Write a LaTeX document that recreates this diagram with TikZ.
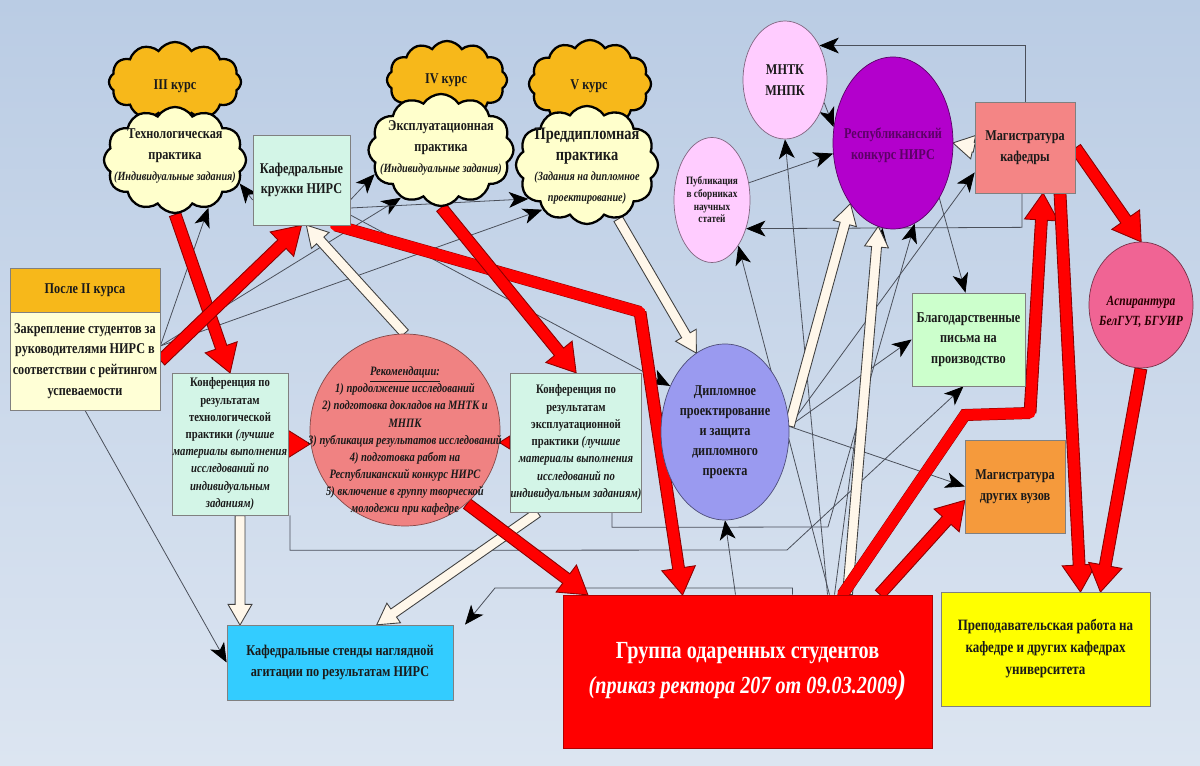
\documentclass[tikz,border=0pt]{standalone}
\usepackage{fontspec}
\setmainfont{Liberation Serif}[FakeStretch=0.82]
\usetikzlibrary{shapes.geometric,shapes.symbols,shapes.arrows,arrows.meta,calc}
\newlength\pxl
\setlength\pxl{0.02cm}
\definecolor{bgtop}{HTML}{BACCE4}
\definecolor{bgbot}{HTML}{DCE5F1}
\definecolor{orC}{HTML}{F7B81A}
\definecolor{ylC}{HTML}{FFFFCC}
\definecolor{mintC}{HTML}{D3F5E7}
\definecolor{pyC}{HTML}{FFFFD6}
\definecolor{coralC}{HTML}{F08282}
\definecolor{dipC}{HTML}{9A9AF0}
\definecolor{pinkC}{HTML}{FFCCFF}
\definecolor{repC}{HTML}{B300CC}
\definecolor{repT}{HTML}{5C0066}
\definecolor{mkC}{HTML}{F48585}
\definecolor{blC}{HTML}{CCFFCC}
\definecolor{aspC}{HTML}{F06494}
\definecolor{mdvC}{HTML}{F59A3C}
\definecolor{prepC}{HTML}{FFFF00}
\definecolor{stC}{HTML}{33CCFF}
\definecolor{grC}{HTML}{FF0000}
\definecolor{lineC}{HTML}{4A4F5A}
\definecolor{cream}{HTML}{FFF7EA}
\definecolor{txtC}{HTML}{1A1A1A}
\pgfdeclarelayer{bg}
\pgfdeclarelayer{arr}
\pgfsetlayers{bg,arr,main}
\newcommand\fatarrow[3]{%
  \path let \p1=($(#3)-(#2)$), \n1={veclen(\x1,\y1)}, \n2={atan2(\y1,\x1)} in
    node[#1, minimum height=\n1, rotate=\n2, anchor=tail] at (#2) {};}
\begin{document}
\begin{tikzpicture}[x=0.02cm,y=-0.02cm,
  every node/.style={text=txtC},
  lab/.style={font=\fontsize{8.5}{11.8}\selectfont\bfseries, align=center, inner sep=0pt},
  sml/.style={font=\fontsize{7.4}{9.8}\selectfont\bfseries, align=center, inner sep=0pt},
  boxst/.style={draw=black!50, line width=0.4pt},
  ell/.style={ellipse, draw=black!50, line width=0.4pt, inner sep=0pt},
  cloudst/.style={cloud, cloud puffs=12, cloud puff arc=115, cloud ignores aspect, draw=black, line width=1.3pt, inner sep=0pt},
  conn/.style={draw=lineC, line width=0.45pt, -{Stealth[length=11pt,width=9pt,inset=3pt,color=black]}},
  redfat/.style={shape=single arrow, fill=grC, draw=red!55!black, line width=0.5pt, inner xsep=0pt, inner ysep=5.5\pxl, single arrow head extend=11\pxl, single arrow tip angle=64, minimum width=0pt},
  whitefat/.style={shape=single arrow, fill=cream, draw=black!75, line width=0.5pt, inner xsep=0pt, inner ysep=4.5\pxl, single arrow head extend=7\pxl, single arrow tip angle=60, minimum width=0pt}
]
\begin{pgfonlayer}{bg}
\shade[top color=bgtop, bottom color=bgbot] (0,0) rectangle (1200,766);
\end{pgfonlayer}
\useasboundingbox (0,0) rectangle (1200,766);

% clouds
\node[cloudst, fill=orC, minimum width=132\pxl, minimum height=80\pxl] (c3o) at (175,82) {};
\node[cloudst, fill=orC, minimum width=120\pxl, minimum height=78\pxl] (c4o) at (447,80) {};
\node[cloudst, fill=orC, minimum width=122\pxl, minimum height=88\pxl] (c5o) at (590,84) {};
\node[lab] (t3o) at (175,86) {III курс};
\node[lab] (t4o) at (446,80) {IV курс};
\node[lab] (t5o) at (589,86) {V курс};
\node[cloudst, fill=ylC, minimum width=142\pxl, minimum height=106\pxl] (c3) at (175,160) {};
\node[cloudst, fill=ylC, minimum width=145\pxl, minimum height=112\pxl] (c4) at (441,150) {};
\node[cloudst, fill=ylC, minimum width=142\pxl, minimum height=118\pxl] (c5) at (587,165) {};
\node[lab] (t3) at (175,156) {Технологическая\\практика\\{\itshape\fontsize{7.1}{9}\selectfont(Индивидуальные задания)}};
\node[lab] (t4) at (441,148) {Эксплуатационная\\практика\\{\itshape\fontsize{7.1}{9}\selectfont(Индивидуальные задания)}};
\node[lab] (t5) at (587,166) {{\fontsize{10}{12}\selectfont Преддипломная}\\{\fontsize{10}{12}\selectfont практика}\\{\itshape\fontsize{7.1}{9}\selectfont(Задания на дипломное}\\{\itshape\fontsize{7.1}{9}\selectfont проектирование)}};

% boxes
\node[boxst, fill=mintC, minimum width=97\pxl, minimum height=90\pxl, lab] (kr) at (301.5,180) {Кафедральные\\кружки НИРС};
\node[boxst, fill=orC, minimum width=150\pxl, minimum height=44\pxl, lab] (p2) at (85,290) {После II курса};
\node[boxst, fill=pyC, minimum width=150\pxl, minimum height=98\pxl, lab] (zs) at (85,361) {Закрепление студентов за\\руководителями НИРС в\\соответствии с рейтингом\\успеваемости};
\node[boxst, fill=mintC, minimum width=116\pxl, minimum height=142\pxl, sml] (kt) at (230,444) {Конференция по\\результатам\\технологической\\практики {\itshape (лучшие}\\{\itshape материалы выполнения}\\{\itshape исследований по}\\{\itshape индивидуальным}\\{\itshape заданиям)}};
\node[boxst, fill=mintC, minimum width=128\pxl, minimum height=139\pxl, sml] (ke) at (576,442.5) {Конференция по\\результатам\\эксплуатационной\\практики {\itshape (лучшие}\\{\itshape материалы выполнения}\\{\itshape исследований по}\\{\itshape индивидуальным заданиям)}};
\node[boxst, fill=mkC, minimum width=100\pxl, minimum height=91\pxl, lab] (mk) at (1025,147.5) {Магистратура\\кафедры};
\node[boxst, fill=blC, minimum width=113\pxl, minimum height=93\pxl, lab] (bl) at (968.5,339.5) {Благодарственные\\письма на\\производство};
\node[boxst, fill=mdvC, minimum width=100\pxl, minimum height=93\pxl, lab] (mdv) at (1015,486.5) {Магистратура\\других вузов};
\node[boxst, fill=prepC, minimum width=209\pxl, minimum height=114\pxl, lab, font=\fontsize{9}{12.5}\selectfont\bfseries] (prep) at (1045.5,649) {Преподавательская работа на\\кафедре и других кафедрах\\университета};
\node[boxst, fill=stC, minimum width=226\pxl, minimum height=75\pxl, lab] (st) at (340,662.5) {Кафедральные стенды наглядной\\агитации по результатам НИРС};
\node[boxst, fill=grC, draw=red!70!black, minimum width=369\pxl, minimum height=153\pxl, align=center, inner sep=0pt, text=white, font=\fontsize{14}{20}\selectfont\bfseries] (gr) at (747.5,671.5) {Группа одаренных студентов\\{\itshape (приказ ректора 207 от 09.03.2009}{\fontsize{19}{20}\selectfont\itshape )}};

% ellipses
\node[ell, fill=coralC, draw=coralC!55!black, minimum width=190\pxl, minimum height=192\pxl] (rec) at (405,430) {};
\node[font=\fontsize{7.3}{9.7}\selectfont\bfseries\itshape, align=center, inner sep=0pt] (trec) at (405,441) {\underline{Рекомендации:}\\1) продолжение исследований\\2) подготовка докладов на МНТК и\\МНПК\\3) публикация результатов исследований\\4) подготовка работ на\\Республиканский конкурс НИРС\\5) включение в группу творческой\\молодежи при кафедре};
\node[ell, fill=dipC, draw=dipC!50!black, minimum width=128\pxl, minimum height=176\pxl, lab, font=\fontsize{8.5}{11.3}\selectfont\bfseries] (dip) at (725,432) {Дипломное\\проектирование\\и защита\\дипломного\\проекта};
\node[ell, fill=pinkC, draw=pinkC!50!black, minimum width=84\pxl, minimum height=118\pxl, lab] (mntk) at (785,80) {МНТК\\МНПК};
\node[ell, fill=pinkC, draw=pinkC!50!black, minimum width=76\pxl, minimum height=125\pxl, lab, font=\fontsize{6.4}{7.2}\selectfont\bfseries] (pub) at (712,200) {Публикация\\в сборниках\\научных\\статей};
\node[ell, fill=repC, draw=repC!50!black, minimum width=120\pxl, minimum height=172\pxl] (rep) at (893,143) {};
\node[lab, text=repT] (trep) at (893,145) {Республиканский\\конкурс НИРС};
\node[ell, fill=aspC, draw=aspC!50!black, minimum width=104\pxl, minimum height=126\pxl] (asp) at (1141,305) {};
\node[lab, font=\fontsize{8}{11}\selectfont\bfseries\itshape, text=black!85!red] (tasp) at (1141,312) {Аспирантура\\БелГУТ, БГУИР};

\begin{pgfonlayer}{arr}
% thin connectors
\coordinate (b527) at (828,527);
\coordinate (b550) at (787,550);
\coordinate (b588) at (495,588);
\draw[conn] ([yshift=-20\pxl]kr.west) -- (c3.-20);
\draw[conn] ([yshift=15\pxl]zs.east) -- (c3.-55);
\draw[conn] ([yshift=15\pxl]zs.east) -- (c4.-130);
\draw[conn] ([yshift=15\pxl]zs.east) -- (c5.-135);
\draw[conn] ([yshift=-20\pxl]kr.east) -- (c4.200);
\draw[conn] ([yshift=-28\pxl]kr.east) -- (c5.-150);
\draw[conn] ([yshift=-35\pxl]kr.east) -- (dip.140);
\draw[conn] (zs.south) -- (st.west);
\draw[conn] (mk.north) |- (mntk.45);
\draw[conn] ([xshift=-3\pxl]mk.south) -- ++(0,34) -- (pub.-40);
\draw[conn] (rep.-50) -- ([xshift=-3\pxl]bl.north);
\draw[conn] (mntk.-30) -- (rep.165);
\draw[conn] (pub.25) -- (rep.190);
\draw[conn] (dip.5) -- (bl.west);
\draw[conn] (dip.5) -- (mdv.west);
\draw[conn] (dip.5) -- ([yshift=-25\pxl]mk.west);
\draw[conn] ([xshift=80\pxl]gr.north) -- (mntk.south);
\draw[conn] ([xshift=82\pxl]gr.north) -- (pub.-60);
\draw[conn] ([xshift=87\pxl]gr.north) -- (rep.-97);
\draw[conn] ([xshift=36\pxl]ke.south) -- ++(0,15) -- (b527) -- (rep.-75);
\draw[conn] ([xshift=-12\pxl]gr.north) -- (dip.south);
\draw[conn] ([xshift=60\pxl]kt.south) -- ++(0,35) -- (b550) -- ([xshift=-5\pxl]bl.south);
\draw[conn] ([xshift=45\pxl]gr.north) |- (b588) -- ([xshift=125\pxl]st.north);

% coordinates for fat arrows
\coordinate (w1b) at ([xshift=5\pxl]kr.south);
\coordinate (w3a) at ([xshift=10\pxl]kt.south);
\coordinate (w3b) at ([xshift=-100\pxl]st.north);
\coordinate (w4a) at ([xshift=-38\pxl]ke.south);
\coordinate (w4b) at ([xshift=37\pxl]st.north);
\coordinate (w6a) at ([xshift=100\pxl]gr.north);
\coordinate (r3a) at ([xshift=-15\pxl]kr.south east);
\coordinate (bend1) at (640,312);
\coordinate (r3b) at ([xshift=-65\pxl]gr.north);
\coordinate (r5b) at (kt.east -| rec.west);
\coordinate (r6b) at (ke.west -| rec.east);
\coordinate (r7b) at ([xshift=25\pxl]gr.north west);
\coordinate (r8a) at ([xshift=95\pxl]gr.north);
\coordinate (bend2) at (965,415);
\coordinate (bend3) at (1030,413);
\coordinate (r8b) at ([xshift=18\pxl]mk.south);
\coordinate (r9a) at ([xshift=132\pxl]gr.north);
\coordinate (r9b) at ([yshift=-14\pxl]mdv.west);
\coordinate (r10a) at ([xshift=35\pxl]mk.south);
\coordinate (r10b) at ([xshift=35\pxl]prep.north);
\coordinate (r12b) at ([xshift=55\pxl]prep.north);

% white arrows
\fatarrow{whitefat}{rec.north}{w1b}
\fatarrow{whitefat}{c5.-60}{dip.110}
\fatarrow{whitefat}{w3a}{w3b}
\fatarrow{whitefat}{w4a}{w4b}
\fatarrow{whitefat}{dip.5}{rep.235}
\fatarrow{whitefat}{w6a}{rep.260}
\fatarrow{whitefat}{mk.west}{rep.east}

% red arrows
\fatarrow{redfat}{c3.south}{kt.north}
\fatarrow{redfat}{zs.east}{kr.south}
\draw[red!55!black, line width=12\pxl] (r3a) -- (bend1);
\fatarrow{redfat}{bend1}{r3b}
\draw[grC, line width=11\pxl, line cap=round] (r3a) -- (bend1);
\fatarrow{redfat}{c4.south}{ke.north}
\fatarrow{redfat}{kt.east}{r5b}
\fatarrow{redfat}{ke.west}{r6b}
\fatarrow{redfat}{rec.-50}{r7b}
\draw[red!55!black, line width=12\pxl, line join=miter] (r8a) -- (bend2) -- (bend3);
\fatarrow{redfat}{bend3}{r8b}
\draw[grC, line width=11\pxl, line cap=round, line join=miter] (r8a) -- (bend2) -- (bend3);
\fatarrow{redfat}{r9a}{r9b}
\fatarrow{redfat}{r10a}{r10b}
\fatarrow{redfat}{mk.east}{asp.north}
\fatarrow{redfat}{asp.south}{r12b}
\end{pgfonlayer}
\end{tikzpicture}
\end{document}
